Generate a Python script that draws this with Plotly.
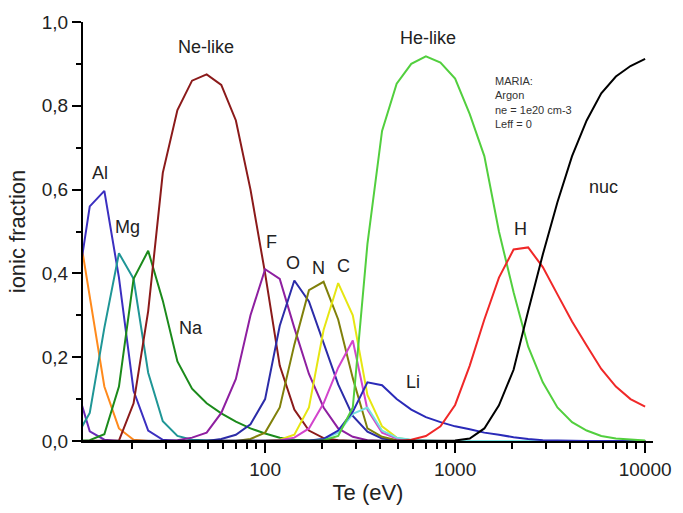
import math
import plotly.graph_objects as go

# Electron temperature grid (eV)
te = [10, 11.94, 14.25, 17.01, 20.31, 24.24, 28.94, 34.55, 41.25, 49.24,
      58.78, 70.17, 83.76, 100.0, 119.4, 142.5, 170.1, 203.1, 242.4, 289.4,
      345.5, 412.5, 492.4, 587.8, 701.7, 837.6, 1000, 1194, 1425, 1701,
      2031, 2424, 2894, 3455, 4125, 4924, 5878, 7017, 8376, 10000]

p_like = [0.14, 0.023, 0.003] + [0] * 37
si_like = [0.56, 0.347, 0.13, 0.03, 0.003] + [0] * 35
al_like = [0.33, 0.56, 0.597, 0.39, 0.12, 0.025, 0.003] + [0] * 33
mg_like = [0.005, 0.067, 0.27, 0.448, 0.387, 0.163, 0.047, 0.012, 0.003, 0.001] + [0] * 30
na_like = [0, 0.002, 0.016, 0.13, 0.387, 0.454, 0.335, 0.19, 0.125, 0.09,
           0.066, 0.046, 0.03, 0.018, 0.008, 0.003, 0.001] + [0] * 23
ne_like = [0, 0, 0, 0.001, 0.09, 0.31, 0.64, 0.79, 0.86, 0.875,
           0.85, 0.765, 0.6, 0.40, 0.18, 0.075, 0.025, 0.007, 0.002] + [0] * 21
f_like = [0] * 7 + [0.002, 0.008, 0.02, 0.067, 0.148, 0.30, 0.41, 0.387, 0.27,
                    0.16, 0.08, 0.03, 0.01, 0.002] + [0] * 19
o_like = [0] * 10 + [0.005, 0.015, 0.04, 0.10, 0.275, 0.383, 0.333, 0.235, 0.135,
                     0.06, 0.022, 0.006, 0.002] + [0] * 17
n_like = [0] * 12 + [0.005, 0.02, 0.08, 0.23, 0.36, 0.38, 0.29, 0.15, 0.03,
                     0.01, 0.002] + [0] * 17
c_like = [0] * 14 + [0.003, 0.015, 0.08, 0.265, 0.377, 0.30, 0.11, 0.035,
                     0.008, 0.002] + [0] * 16
b_like = [0] * 14 + [0.002, 0.008, 0.03, 0.09, 0.175, 0.24, 0.075, 0.02,
                     0.006, 0.002] + [0] * 16
be_like = [0] * 17 + [0.005, 0.02, 0.065, 0.08, 0.025, 0.008, 0.003, 0.001] + [0] * 15
li_like = [0] * 16 + [0.001, 0.005, 0.025, 0.07, 0.14, 0.133, 0.10, 0.075, 0.057,
                      0.045, 0.035, 0.028, 0.02, 0.015, 0.009, 0.005, 0.002, 0.001] + [0] * 6
he_like = [0] * 17 + [0.002, 0.012, 0.08, 0.47, 0.74, 0.853, 0.90, 0.918, 0.903,
                      0.865, 0.78, 0.68, 0.50, 0.355, 0.225, 0.14, 0.08, 0.045,
                      0.025, 0.012, 0.006, 0.003, 0.001]
h_like = [0] * 23 + [0.003, 0.012, 0.035, 0.086, 0.18, 0.29, 0.39, 0.457, 0.462,
                     0.415, 0.35, 0.285, 0.228, 0.172, 0.13, 0.10, 0.082]
nuc = [0] * 26 + [0.001, 0.006, 0.03, 0.085, 0.17, 0.31, 0.445, 0.57, 0.68,
                  0.765, 0.83, 0.87, 0.895, 0.912]

series = [
    ("P", p_like, "#6a2ab8"),
    ("Si", si_like, "#ff8a1c"),
    ("Al", al_like, "#3b2fc0"),
    ("Mg", mg_like, "#1f9696"),
    ("Na", na_like, "#1b8a1b"),
    ("Ne-like", ne_like, "#8b1a1a"),
    ("F", f_like, "#8e1fa0"),
    ("O", o_like, "#2c2ca8"),
    ("N", n_like, "#80800a"),
    ("C", c_like, "#e6e612"),
    ("B", b_like, "#d244cc"),
    ("Be", be_like, "#74e0e0"),
    ("Li", li_like, "#2a2ab8"),
    ("He-like", he_like, "#52cf3e"),
    ("H", h_like, "#f02828"),
    ("nuc", nuc, "#000000"),
]

# Curve labels (text, Te, fraction)
labels = [
    ("Al", 13.6, 0.64), ("Mg", 18.8, 0.51), ("Na", 40.8, 0.27),
    ("Ne-like", 48.9, 0.94), ("F", 108.6, 0.475), ("O", 141, 0.425),
    ("N", 190.5, 0.413), ("C", 259.8, 0.417), ("Li", 598, 0.14),
    ("He-like", 716, 0.962), ("H", 2198, 0.505), ("nuc", 6053, 0.606),
]
info_text = "MARIA:<br>Argon<br>ne = 1e20 cm-3<br>Leff = 0"

x_major = [100, 1000, 10000]
x_major_text = ["100", "1000", "10000"]
x_minor = [20, 30, 40, 50, 60, 70, 80, 90,
           200, 300, 400, 500, 600, 700, 800, 900,
           2000, 3000, 4000, 5000, 6000, 7000, 8000, 9000]
y_major = [0, 0.2, 0.4, 0.6, 0.8, 1.0]
y_major_text = ["0,0", "0,2", "0,4", "0,6", "0,8", "1,0"]
y_minor = [0.1, 0.3, 0.5, 0.7, 0.9]

FONT = "Arial, Liberation Sans, sans-serif"
X_RANGE = [1.0415, 4.0415]
Y_RANGE = [0, 1]

fig = go.Figure()
for name, vals, col in series:
    fig.add_trace(go.Scatter(x=te, y=vals, mode="lines", name=name,
                             line=dict(color=col, width=2), showlegend=False))

for txt, xv, yv in labels:
    fig.add_annotation(x=math.log10(xv), y=yv, text=txt, showarrow=False,
                       xref="x", yref="y", font=dict(family=FONT, size=18, color="#222"))

fig.add_annotation(x=math.log10(1592), y=0.878, text=info_text, showarrow=False,
                   xref="x", yref="y", xanchor="left", yanchor="top", align="left",
                   font=dict(family=FONT, size=11, color="#333"))

fig.update_layout(
    width=683, height=513,
    margin=dict(l=83, r=21, t=15, b=66),
    paper_bgcolor="white", plot_bgcolor="white",
    font=dict(family=FONT, color="#222"),
    xaxis=dict(
        type="log", range=X_RANGE,
        showline=True, linecolor="black", linewidth=2, mirror=False,
        showgrid=False, zeroline=False,
        tickmode="array", tickvals=x_major, ticktext=x_major_text,
        ticks="outside", ticklen=10, tickwidth=2, tickcolor="black",
        tickfont=dict(size=19, family=FONT, color="#222"),
        minor=dict(tickmode="array", tickvals=x_minor, ticks="outside",
                   ticklen=6, tickwidth=1.5, tickcolor="black", showgrid=False),
        title=dict(text="Te (eV)", font=dict(size=22, family=FONT, color="#222"), standoff=6),
    ),
    yaxis=dict(
        range=Y_RANGE,
        showline=True, linecolor="black", linewidth=2, mirror=False,
        showgrid=False, zeroline=False,
        tickmode="array", tickvals=y_major, ticktext=y_major_text,
        ticks="outside", ticklen=9, tickwidth=2, tickcolor="black",
        tickfont=dict(size=19, family=FONT, color="#222"),
        minor=dict(tickmode="array", tickvals=y_minor, ticks="outside",
                   ticklen=5, tickwidth=1.5, tickcolor="black", showgrid=False),
        title=dict(text="ionic fraction", font=dict(size=22, family=FONT, color="#222"), standoff=10),
    ),
)

fig.write_html("out.html")
